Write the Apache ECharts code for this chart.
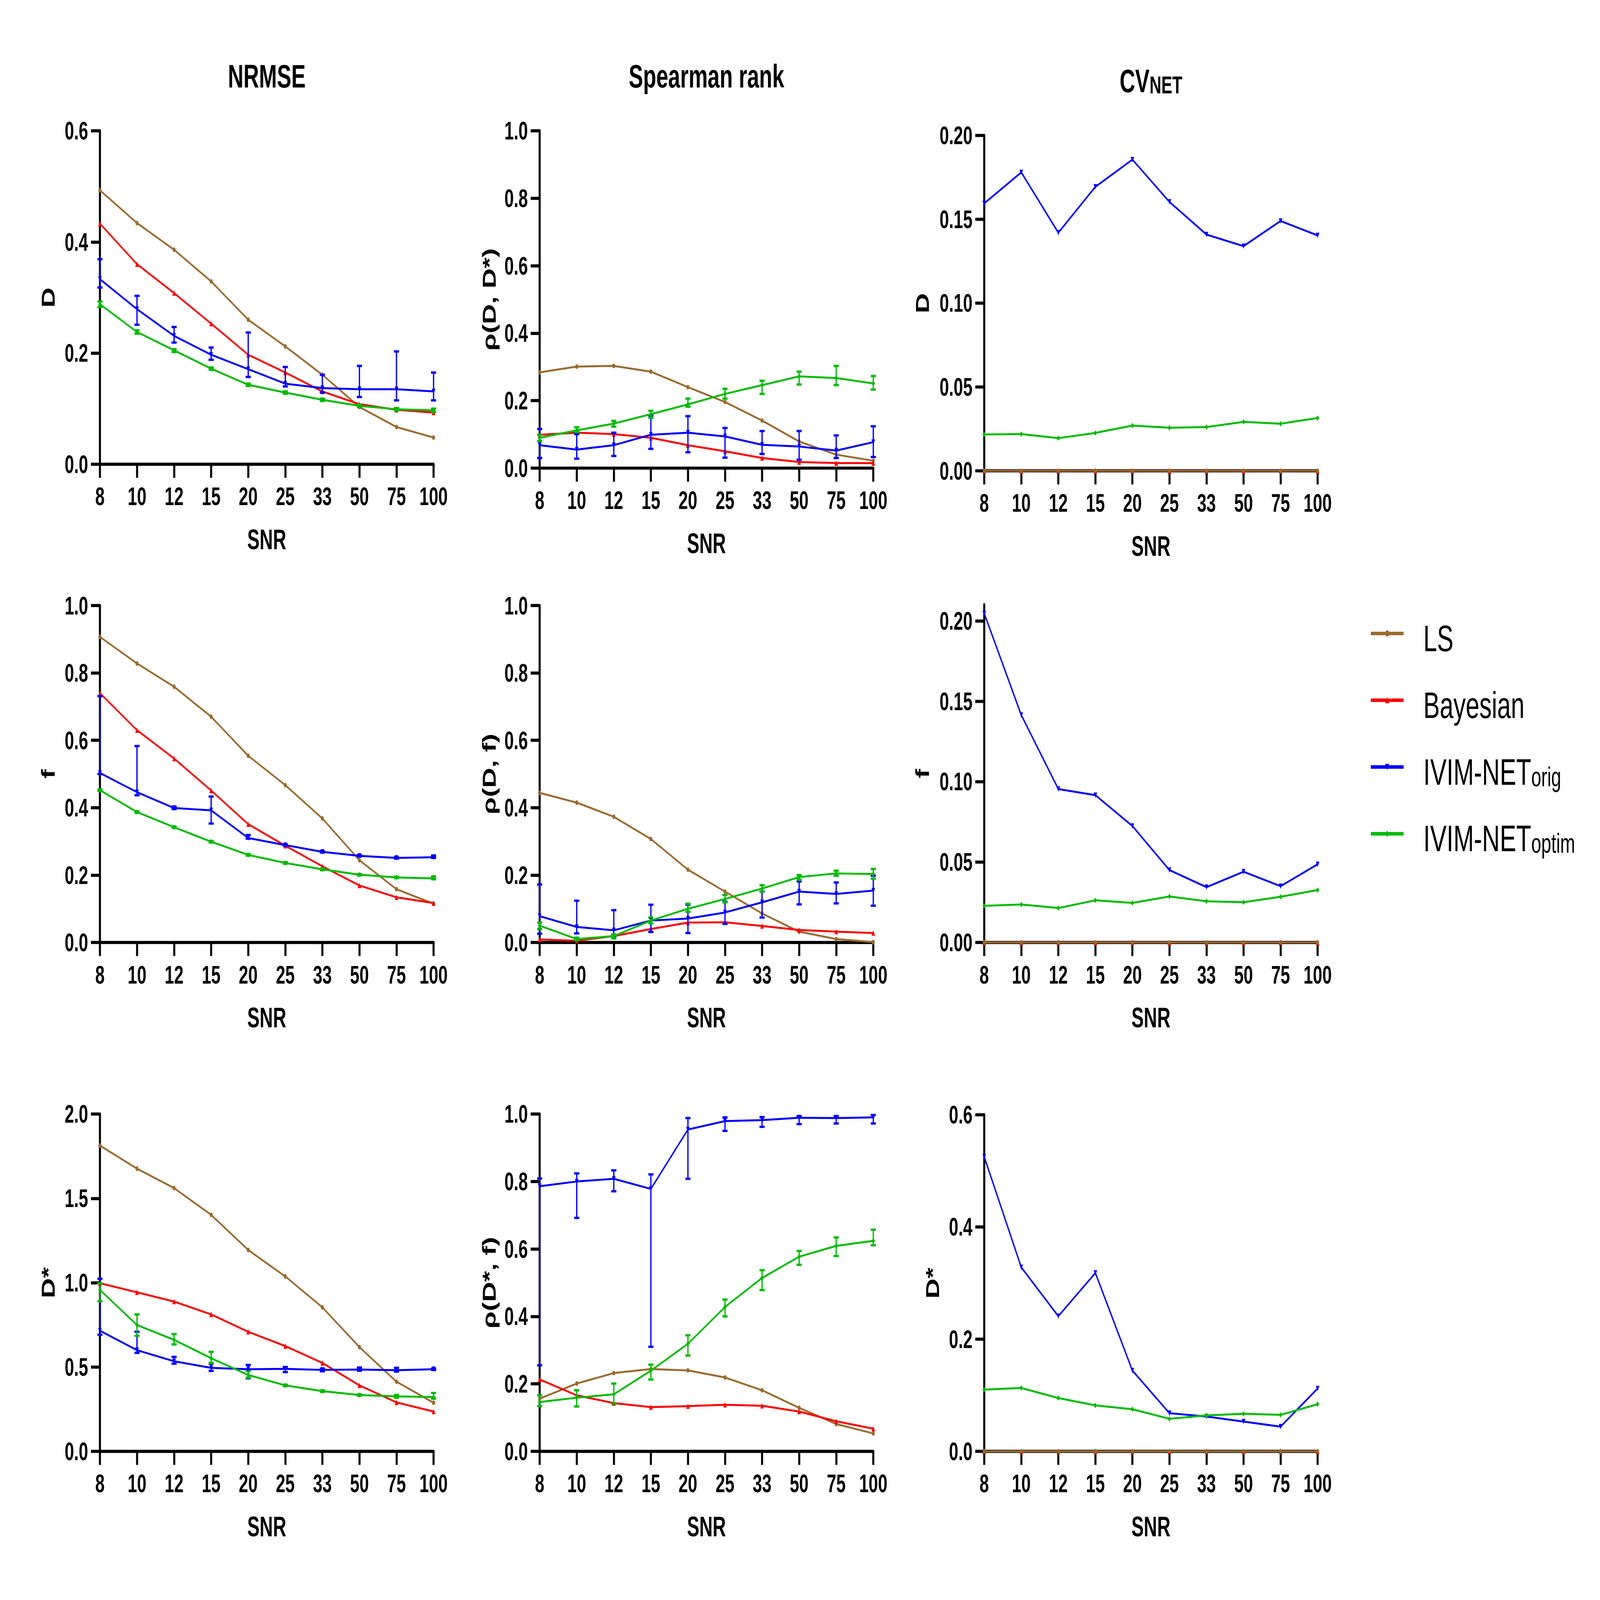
<!DOCTYPE html>
<html><head><meta charset="utf-8">
<script src="https://cdn.jsdelivr.net/npm/echarts@6/dist/echarts.min.js"></script>
<style>html,body{margin:0;padding:0;background:#fff;overflow:hidden;width:100%;height:100%}
#c{position:absolute;left:0;top:0;width:6244px;height:4122px;transform-origin:0 0}</style>
</head><body><div id="c"></div><script>
// ---------- data ----------
const snr = ['8','10','12','15','20','25','33','50','75','100'];
const seriesNames = ['LS','Bayesian','IVIM-NET_orig','IVIM-NET_optim'];

// NRMSE - D
const nrmseD_LS    = [0.493,0.434,0.386,0.329,0.260,0.212,0.161,0.103,0.067,0.048];
const nrmseD_Bay   = [0.433,0.360,0.308,0.253,0.197,0.165,0.131,0.108,0.098,0.093];
const nrmseD_orig  = [0.333,0.279,0.231,0.197,0.171,0.145,0.137,0.135,0.135,0.131];
const nrmseD_origLo= [0.318,0.251,0.219,0.188,0.157,0.140,0.129,0.121,0.115,0.115];
const nrmseD_origHi= [0.369,0.303,0.247,0.210,0.237,0.175,0.161,0.177,0.203,0.165];
const nrmseD_opt   = [0.288,0.238,0.205,0.172,0.143,0.129,0.116,0.105,0.099,0.097];
const nrmseD_optLo = [0.283,0.235,0.202,0.170,0.141,0.127,0.114,0.103,0.097,0.094];
const nrmseD_optHi = [0.293,0.241,0.207,0.174,0.145,0.131,0.118,0.107,0.101,0.100];

// Spearman rho(D, D*)
const rhoDDs_LS    = [0.284,0.301,0.303,0.286,0.240,0.196,0.141,0.079,0.040,0.022];
const rhoDDs_Bay   = [0.099,0.105,0.101,0.090,0.068,0.050,0.030,0.018,0.015,0.015];
const rhoDDs_orig  = [0.068,0.055,0.068,0.099,0.105,0.094,0.069,0.064,0.052,0.077];
const rhoDDs_origLo= [0.030,0.028,0.036,0.057,0.047,0.031,0.042,0.025,0.030,0.033];
const rhoDDs_origHi= [0.116,0.101,0.105,0.156,0.154,0.119,0.110,0.110,0.097,0.124];
const rhoDDs_opt   = [0.090,0.112,0.132,0.160,0.189,0.220,0.246,0.272,0.267,0.251];
const rhoDDs_optLo = [0.080,0.107,0.123,0.149,0.182,0.206,0.220,0.248,0.246,0.233];
const rhoDDs_optHi = [0.099,0.121,0.140,0.170,0.206,0.235,0.259,0.286,0.303,0.273];

// CV_NET - D
const cvD_LS   = [0,0,0,0,0,0,0,0,0,0];
const cvD_Bay  = [0,0,0,0,0,0,0,0,0,0];
const cvD_orig = [0.1595,0.178,0.142,0.1694,0.1856,0.1604,0.1409,0.134,0.149,0.1404];
const cvD_opt  = [0.0217,0.0219,0.0195,0.0226,0.027,0.0257,0.0261,0.0292,0.0281,0.0315];

// NRMSE - f
const nrmseF_LS    = [0.907,0.828,0.759,0.670,0.554,0.467,0.368,0.244,0.158,0.115];
const nrmseF_Bay   = [0.740,0.630,0.546,0.451,0.351,0.287,0.226,0.169,0.134,0.117];
const nrmseF_orig  = [0.503,0.446,0.399,0.392,0.310,0.289,0.269,0.257,0.251,0.253];
const nrmseF_origLo= [0.500,0.437,0.396,0.353,0.308,0.287,0.267,0.255,0.249,0.251];
const nrmseF_origHi= [0.731,0.583,0.403,0.433,0.319,0.291,0.271,0.259,0.253,0.258];
const nrmseF_opt   = [0.452,0.387,0.342,0.299,0.260,0.236,0.217,0.201,0.193,0.190];
const nrmseF_optLo = [0.450,0.385,0.340,0.297,0.258,0.234,0.215,0.199,0.191,0.188];
const nrmseF_optHi = [0.454,0.389,0.344,0.301,0.262,0.238,0.219,0.203,0.195,0.196];

// Spearman rho(D, f)
const rhoDF_LS    = [0.444,0.415,0.373,0.307,0.216,0.151,0.086,0.032,0.010,0.001];
const rhoDF_Bay   = [0.009,0.005,0.019,0.040,0.059,0.060,0.049,0.037,0.032,0.028];
const rhoDF_orig  = [0.078,0.046,0.036,0.065,0.071,0.089,0.119,0.151,0.144,0.154];
const rhoDF_origLo= [0.026,0.027,0.019,0.031,0.028,0.055,0.074,0.113,0.116,0.109];
const rhoDF_origHi= [0.172,0.124,0.096,0.112,0.112,0.121,0.151,0.181,0.178,0.198];
const rhoDF_opt   = [0.050,0.010,0.019,0.065,0.100,0.129,0.160,0.194,0.205,0.203];
const rhoDF_optLo = [0.040,0.007,0.012,0.057,0.091,0.119,0.151,0.186,0.198,0.189];
const rhoDF_optHi = [0.059,0.014,0.024,0.074,0.115,0.141,0.170,0.200,0.213,0.218];

// CV_NET - f
const cvF_LS   = [0,0,0,0,0,0,0,0,0,0];
const cvF_Bay  = [0,0,0,0,0,0,0,0,0,0];
const cvF_orig = [0.2046,0.1414,0.0954,0.0916,0.0724,0.045,0.0344,0.044,0.035,0.0486];
const cvF_opt  = [0.0228,0.0236,0.0214,0.0262,0.0246,0.0286,0.0256,0.025,0.0284,0.0326];

// NRMSE - D*
const nrmseDs_LS    = [1.813,1.676,1.561,1.402,1.194,1.037,0.854,0.618,0.413,0.288];
const nrmseDs_Bay   = [0.997,0.943,0.888,0.812,0.709,0.624,0.524,0.391,0.290,0.236];
const nrmseDs_orig  = [0.715,0.600,0.534,0.495,0.487,0.489,0.483,0.485,0.481,0.487];
const nrmseDs_origLo= [0.691,0.584,0.520,0.477,0.433,0.470,0.475,0.478,0.473,0.483];
const nrmseDs_origHi= [1.023,0.709,0.560,0.520,0.512,0.500,0.490,0.497,0.495,0.491];
const nrmseDs_opt   = [0.957,0.749,0.661,0.552,0.453,0.391,0.357,0.334,0.326,0.322];
const nrmseDs_optLo = [0.890,0.685,0.634,0.524,0.437,0.387,0.353,0.330,0.318,0.312];
const nrmseDs_optHi = [0.997,0.812,0.695,0.590,0.477,0.395,0.361,0.338,0.334,0.346];

// Spearman rho(D*, f)
const rhoDsF_LS    = [0.156,0.201,0.232,0.244,0.240,0.219,0.181,0.129,0.081,0.053];
const rhoDsF_Bay   = [0.213,0.166,0.143,0.131,0.134,0.138,0.135,0.118,0.089,0.067];
const rhoDsF_orig  = [0.786,0.800,0.808,0.778,0.954,0.979,0.982,0.989,0.988,0.990];
const rhoDsF_origLo= [0.255,0.692,0.771,0.310,0.808,0.950,0.962,0.970,0.972,0.972];
const rhoDsF_origHi= [0.809,0.824,0.833,0.821,0.988,0.990,0.991,0.994,0.994,0.997];
const rhoDsF_opt   = [0.146,0.159,0.169,0.239,0.319,0.428,0.514,0.577,0.609,0.624];
const rhoDsF_optLo = [0.134,0.133,0.141,0.213,0.284,0.400,0.478,0.553,0.579,0.611];
const rhoDsF_optHi = [0.166,0.181,0.201,0.257,0.344,0.450,0.537,0.594,0.634,0.657];

// CV_NET - D*
const cvDs_LS   = [0,0,0,0,0,0,0,0,0,0];
const cvDs_Bay  = [0,0,0,0,0,0,0,0,0,0];
const cvDs_orig = [0.525,0.328,0.241,0.318,0.144,0.068,0.062,0.053,0.044,0.112];
const cvDs_opt  = [0.110,0.113,0.095,0.082,0.075,0.058,0.064,0.067,0.065,0.084];

const columnTitles = ['NRMSE','Spearman rank','CV'];
const yNames = [
  ['D','ρ(D, D*)','D'],
  ['f','ρ(D, f)','f'],
  ['D*','ρ(D*, f)','D*']
];

// ---------- fit the 6244x4122 design to whatever viewport we get ----------
const el = document.getElementById('c');
const VW = window.innerWidth || 6244, VH = window.innerHeight || 4122;
el.style.transform = 'scale(' + (VW / 6244) + ',' + (VH / 4122) + ')';

// ---------- styling / layout ----------
const FF = "'Liberation Sans', Arial, Helvetica, sans-serif";
const COLORS = {LS:'#9A6A2E', Bayesian:'#FF0000', orig:'#0000FF', optim:'#00BB00'};
const colX = [390, 2106, 3841];
const colW = [1302, 1302, 1301];
const rowTB = [
  [[337,1196],[337,1206],[349,1213]],
  [[1560,2428],[1560,2428],[1558,2428]],
  [[2870,3739],[2870,3739],[2872,3739]]
];

const panels = [
  {r:0,c:0,max:0.6,int:0.2,dec:1,gap:166,ls:nrmseD_LS,bay:nrmseD_Bay,orig:nrmseD_orig,opt:nrmseD_opt,
   oLo:nrmseD_origLo,oHi:nrmseD_origHi,pLo:nrmseD_optLo,pHi:nrmseD_optHi},
  {r:0,c:1,max:1.0,int:0.2,dec:1,gap:161,ls:rhoDDs_LS,bay:rhoDDs_Bay,orig:rhoDDs_orig,opt:rhoDDs_opt,
   oLo:rhoDDs_origLo,oHi:rhoDDs_origHi,pLo:rhoDDs_optLo,pHi:rhoDDs_optHi},
  {r:0,c:2,max:0.2,int:0.05,dec:2,gap:205,ls:cvD_LS,bay:cvD_Bay,orig:cvD_orig,opt:cvD_opt,cv:true},
  {r:1,c:0,max:1.0,int:0.2,dec:1,gap:166,ls:nrmseF_LS,bay:nrmseF_Bay,orig:nrmseF_orig,opt:nrmseF_opt,
   oLo:nrmseF_origLo,oHi:nrmseF_origHi,pLo:nrmseF_optLo,pHi:nrmseF_optHi},
  {r:1,c:1,max:1.0,int:0.2,dec:1,gap:161,ls:rhoDF_LS,bay:rhoDF_Bay,orig:rhoDF_orig,opt:rhoDF_opt,
   oLo:rhoDF_origLo,oHi:rhoDF_origHi,pLo:rhoDF_optLo,pHi:rhoDF_optHi},
  {r:1,c:2,max:0.21,int:0.05,dec:2,gap:205,ls:cvF_LS,bay:cvF_Bay,orig:cvF_orig,opt:cvF_opt,cv:true,
   custom:[0,0.05,0.1,0.15,0.2]},
  {r:2,c:0,max:2.0,int:0.5,dec:1,gap:166,ls:nrmseDs_LS,bay:nrmseDs_Bay,orig:nrmseDs_orig,opt:nrmseDs_opt,
   oLo:nrmseDs_origLo,oHi:nrmseDs_origHi,pLo:nrmseDs_optLo,pHi:nrmseDs_optHi},
  {r:2,c:1,max:1.0,int:0.2,dec:1,gap:161,ls:rhoDsF_LS,bay:rhoDsF_Bay,orig:rhoDsF_orig,opt:rhoDsF_opt,
   oLo:rhoDsF_origLo,oHi:rhoDsF_origHi,pLo:rhoDsF_optLo,pHi:rhoDsF_optHi},
  {r:2,c:2,max:0.6,int:0.2,dec:1,gap:166,ls:cvDs_LS,bay:cvDs_Bay,orig:cvDs_orig,opt:cvDs_opt,cv:true}
];

const grid = [], xAxis = [], yAxis = [], series = [], errSeries = [];
const axisLineStyle = {color:'#000', width:8};
const labelStyle = {fontFamily:FF, fontWeight:'bold', fontSize:66, color:'#000'};
const nameStyle = {fontFamily:FF, fontWeight:'bold', fontSize:72, color:'#000'};

function errRender(color){
  return function(params, api){
    const i = api.value(0);
    const p1 = api.coord([i, api.value(1)]);
    const p2 = api.coord([i, api.value(2)]);
    const w = 10;
    return {type:'group', children:[
      {type:'line', shape:{x1:p1[0],y1:p1[1],x2:p2[0],y2:p2[1]}, style:{stroke:color, lineWidth:5}},
      {type:'line', shape:{x1:p1[0]-w,y1:p1[1],x2:p1[0]+w,y2:p1[1]}, style:{stroke:color,lineWidth:6}},
      {type:'line', shape:{x1:p2[0]-w,y1:p2[1],x2:p2[0]+w,y2:p2[1]}, style:{stroke:color,lineWidth:6}}
    ]};
  };
}

panels.forEach((p, k) => {
  const tb = rowTB[p.r][p.c];
  grid.push({left:colX[p.c], width:colW[p.c], top:tb[0], height:tb[1]-tb[0], containLabel:false});
  xAxis.push({
    type:'category', gridIndex:k, data:snr, boundaryGap:false,
    axisLine:{show:true, lineStyle:axisLineStyle},
    axisTick:{show:true, length:35, interval:0, lineStyle:{color:'#000', width:8}},
    axisLabel:Object.assign({margin:50, interval:0}, labelStyle),
    splitLine:{show:false},
    name:'SNR', nameLocation:'middle', nameGap:158, nameTextStyle:nameStyle
  });
  const ya = {
    type:'value', gridIndex:k, min:0, max:p.max, interval:p.int,
    axisLine:{show:true, lineStyle:axisLineStyle},
    axisTick:{show:true, length:35, lineStyle:{color:'#000', width:8}},
    axisLabel:Object.assign({margin:46, formatter:v => v.toFixed(p.dec)}, labelStyle),
    splitLine:{show:false},
    name:yNames[p.r][p.c], nameLocation:'middle', nameGap:p.gap, nameTextStyle:nameStyle
  };
  if (p.custom) { ya.axisLabel.customValues = p.custom; ya.axisTick.customValues = p.custom; }
  yAxis.push(ya);

  const mk = (name, data, color, symbol, size, rot, z) => ({
    type:'line', name:name, xAxisIndex:k, yAxisIndex:k, data:data,
    symbol:symbol, symbolSize:size, symbolRotate:rot || 0, showSymbol:true,
    lineStyle:{color:color, width:5}, itemStyle:{color:color}, color:color,
    z:z, animation:false, emphasis:{disabled:true}
  });
  series.push(mk('LS', p.ls, COLORS.LS, 'circle', 12, 0, p.cv ? 4 : 2));
  series.push(mk('Bayesian', p.bay, COLORS.Bayesian, 'triangle', 14, 0, 2));
  series.push(mk('IVIM-NET_orig', p.orig, COLORS.orig, 'triangle', 14, 180, 3));
  series.push(mk('IVIM-NET_optim', p.opt, COLORS.optim, 'diamond', 14, 0, 3));
  if (p.oLo) {
    errSeries.push({type:'custom', xAxisIndex:k, yAxisIndex:k, renderItem:errRender(COLORS.orig),
      data:snr.map((v,i)=>[i, p.oLo[i], p.oHi[i]]), encode:{x:0, y:[1,2]}, z:3, animation:false, silent:true});
    errSeries.push({type:'custom', xAxisIndex:k, yAxisIndex:k, renderItem:errRender(COLORS.optim),
      data:snr.map((v,i)=>[i, p.pLo[i], p.pHi[i]]), encode:{x:0, y:[1,2]}, z:3, animation:false, silent:true});
  }
});

const graphic = [0,1,2].map(c => {
  const cx = colX[c] + colW[c]/2;
  if (c < 2) {
    return {type:'text', x:cx, y:196, silent:true, style:{text:columnTitles[c],
      font:'bold 84px ' + FF, fill:'#000',
      align:'center', verticalAlign:'middle', textAlign:'center', textVerticalAlign:'middle'}};
  }
  return {type:'text', x:cx, y:200, silent:true, style:{text:'{a|CV}{b|NET}', fill:'#000',
    align:'center', verticalAlign:'middle', textAlign:'center', textVerticalAlign:'middle',
    rich:{a:{fontFamily:FF, fontWeight:'bold', fontSize:84, lineHeight:100, verticalAlign:'bottom', fill:'#000'},
          b:{fontFamily:FF, fontWeight:'bold', fontSize:64, lineHeight:44, verticalAlign:'bottom', fill:'#000'}}}};
});

const legendLabel = {
  'LS':'{a|LS}', 'Bayesian':'{a|Bayesian}',
  'IVIM-NET_orig':'{a|IVIM-NET}{b|orig}', 'IVIM-NET_optim':'{a|IVIM-NET}{b|optim}'
};

const option = {
  backgroundColor:'#fff',
  animation:false,
  grid, xAxis, yAxis,
  series: series.concat(errSeries),
  graphic,
  legend:{
    show:true, orient:'vertical', left:5345, top:1572, padding:0,
    itemWidth:128, itemHeight:20, itemGap:52, selectedMode:false,
    data:seriesNames, formatter:n => legendLabel[n],
    lineStyle:{width:9},
    textStyle:{fontFamily:FF, fontSize:96, color:'#000', lineHeight:120, padding:[0,0,0,72],
      rich:{a:{fontFamily:FF, fontSize:96, lineHeight:120, verticalAlign:'bottom', color:'#000'},
            b:{fontFamily:FF, fontSize:70, lineHeight:60, verticalAlign:'bottom', color:'#000'}}}
  }
};

const chart = echarts.init(el, null, {renderer:'svg', width:6244, height:4122});
chart.setOption(option);
</script></body></html>
